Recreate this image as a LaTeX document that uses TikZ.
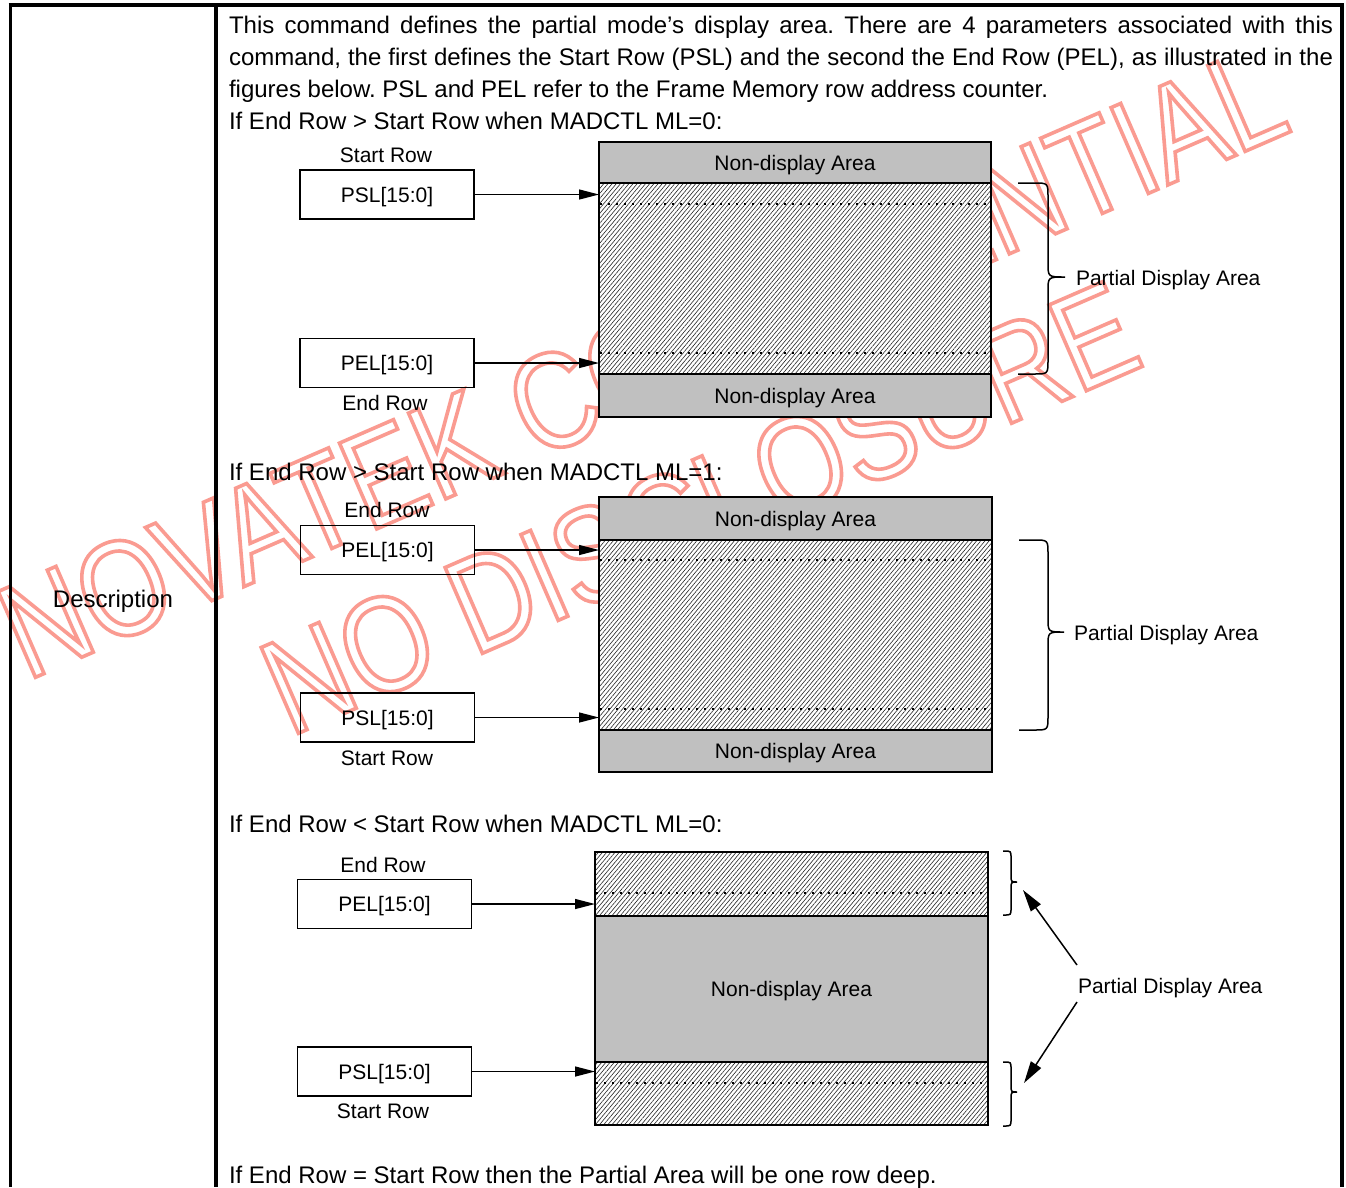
\documentclass[tikz,border=0pt]{standalone}
\usepackage{fontspec}
\setmainfont{Liberation Sans}
\newfontfamily\wmfont{Liberation Sans}[FakeStretch=0.83]
\usetikzlibrary{arrows.meta,patterns.meta}
\definecolor{ndgray}{RGB}{192,192,192}
\definecolor{wmred}{RGB}{250,155,145}
\newcommand\strokeon{\special{pdf:literal direct 1 Tr 3.6 w}}
\newcommand\strokeoff{\special{pdf:literal direct 0 Tr}}
\newcommand\drawbrace[7]{% x0 xv xt ytop ymid ybot r
  \draw[bracestyle] (#1,#4) -- ({#2-#7},#4) .. controls (#2,#4) .. (#2,{#4+#7})
    -- (#2,{#5-#7}) .. controls (#2,#5) .. (#3,#5)
    .. controls (#2,#5) .. (#2,{#5+#7}) -- (#2,{#6-#7})
    .. controls (#2,#6) .. ({#2-#7},#6) -- (#1,#6);}
\frenchspacing
\begin{document}
\begin{tikzpicture}[x=1pt,y=-1pt,
  every node/.style={inner sep=0pt, outer sep=0pt},
  maintext/.style={font=\fontsize{24}{32}\selectfont, anchor=base west},
  lbl/.style={font=\fontsize{21}{25}\selectfont, anchor=base},
  lblw/.style={font=\fontsize{21}{25}\selectfont, anchor=base west},
  regbox/.style={draw, line width=1.3pt, minimum width=174pt, minimum height=49pt,
    font=\fontsize{21}{25}\selectfont, text height=15pt, text depth=0pt},
  ndband/.style={draw, line width=1.8pt, fill=ndgray,
    font=\fontsize{21}{25}\selectfont, text height=15pt, text depth=0pt},
  hatchband/.style={draw, line width=1.8pt, preaction={fill=white},
    pattern={Lines[angle=50,distance=3.2pt,line width=0.6pt]}, pattern color=black!85},
  dotline/.style={line width=1.2pt, dash pattern=on 2pt off 6pt},
  arr/.style={line width=1.3pt, -{Triangle[length=20pt,width=10pt]}},
  arrb/.style={line width=1.5pt, -{Triangle[length=22pt,width=12pt]}},
  bracestyle/.style={line width=1.5pt},
  wm/.style={font=\wmfont\fontsize{136}{136}\selectfont, text=wmred, anchor=base west, rotate=23.5}
]
\useasboundingbox (0,0) rectangle (1346,1187);
\fill[white] (0,0) rectangle (1346,1187);

% ---------- watermark (behind the opaque areas)
\node[wm] (wm1) at (27,681) {\strokeon NOVATEK CONFIDENTIAL\strokeoff};
\node[wm] (wm2) at (290,737) {\strokeon NO DISCLOSURE\strokeoff};

% table frame
\draw[line width=4pt] (8.5,5) -- (1343.5,5);
\draw[line width=3.5pt] (10.5,3) -- (10.5,1187);
\draw[line width=4pt] (216,3) -- (216,1187);
\draw[line width=4pt] (1341.5,3) -- (1341.5,1187);

\node[font=\fontsize{24}{32}\selectfont, anchor=base] (desc) at (113,607) {Description};

% intro text
\node[maintext] (t1) at (229,33) {\makebox[1104pt][s]{This command defines the partial mode’s display area. There are 4 parameters associated with this}};
\node[maintext] (t2) at (229,65) {\makebox[1104pt][s]{command, the first defines the Start Row (PSL) and the second the End Row (PEL), as illustrated in the}};
\node[maintext] (t3) at (229,97) {figures below. PSL and PEL refer to the Frame Memory row address counter.};
\node[maintext] (t4) at (229,129) {If End Row > Start Row when MADCTL ML=0:};

% ---------- diagram 1
\node[ndband, minimum width=392pt, minimum height=41pt] (d1top) at (795,162.5) {Non-display Area};
\node[hatchband, minimum width=392pt, minimum height=191pt] (d1h) at (795,278.5) {};
\node[ndband, minimum width=392pt, minimum height=43pt] (d1bot) at (795,395.5) {Non-display Area};
\draw[dotline] (600,204) -- (990,204);
\draw[dotline] (600,353) -- (990,353);
\node[lbl] (d1sr) at (386,162) {Start Row};
\node[regbox] (psl1) at (387,194.5) {PSL[15:0]};
\node[regbox] (pel1) at (387,363) {PEL[15:0]};
\node[lbl] (d1er) at (385,410) {End Row};
\draw[arr] (psl1.east) -- (psl1.east -| d1h.west);
\draw[arr] (pel1.east) -- (pel1.east -| d1h.west);
\drawbrace{1018}{1048}{1065}{183}{277}{374}{14}
\node[lblw] (pda1) at (1076,285) {Partial Display Area};

% ---------- diagram 2
\node[maintext] (t5) at (229,480) {If End Row > Start Row when MADCTL ML=1:};
\node[ndband, minimum width=393pt, minimum height=43pt] (d2top) at (795.5,518.5) {Non-display Area};
\node[hatchband, minimum width=393pt, minimum height=190pt] (d2h) at (795.5,635) {};
\node[ndband, minimum width=393pt, minimum height=42pt] (d2bot) at (795.5,751) {Non-display Area};
\draw[dotline] (600,560) -- (991,560);
\draw[dotline] (600,709) -- (991,709);
\node[lbl] (d2er) at (387,517) {End Row};
\node[regbox] (pel2) at (387.5,550) {PEL[15:0]};
\node[regbox] (psl2) at (387.5,717.5) {PSL[15:0]};
\node[lbl] (d2sr) at (387,765) {Start Row};
\draw[arr] (pel2.east) -- (pel2.east -| d2h.west);
\draw[arr] (psl2.east) -- (psl2.east -| d2h.west);
\drawbrace{1019}{1048}{1064}{540}{632}{730}{14}
\node[lblw] (pda2) at (1074,640) {Partial Display Area};

% ---------- diagram 3
\node[maintext] (t6) at (229,832) {If End Row < Start Row when MADCTL ML=0:};
\node[hatchband, minimum width=393pt, minimum height=64pt] (d3h1) at (791.5,884) {};
\node[ndband, minimum width=393pt, minimum height=146pt] (d3mid) at (791.5,989) {Non-display Area};
\node[hatchband, minimum width=393pt, minimum height=63pt] (d3h2) at (791.5,1093.5) {};
\draw[dotline] (596,893) -- (987,893);
\draw[dotline] (596,1083) -- (987,1083);
\node[lbl] (d3er) at (383,872) {End Row};
\node[regbox] (pel3) at (384.5,904) {PEL[15:0]};
\node[regbox] (psl3) at (384.5,1071.5) {PSL[15:0]};
\node[lbl] (d3sr) at (383,1118) {Start Row};
\draw[arr] (pel3.east) -- (pel3.east -| d3h1.west);
\draw[arr] (psl3.east) -- (psl3.east -| d3h2.west);
\drawbrace{1003}{1011}{1017}{851}{882}{915}{7}
\drawbrace{1003}{1011}{1017}{1062}{1092}{1126}{7}
\node[lblw] (pda3) at (1078,993) {Partial Display Area};
\coordinate (a3s1) at (1077,965);
\coordinate (a3t1) at (1023,890);
\coordinate (a3s2) at (1077,1002);
\coordinate (a3t2) at (1024,1083);
\draw[arrb] (a3s1) -- (a3t1);
\draw[arrb] (a3s2) -- (a3t2);

\node[maintext] (t7) at (229,1183) {If End Row = Start Row then the Partial Area will be one row deep.};
\end{tikzpicture}
\end{document}
